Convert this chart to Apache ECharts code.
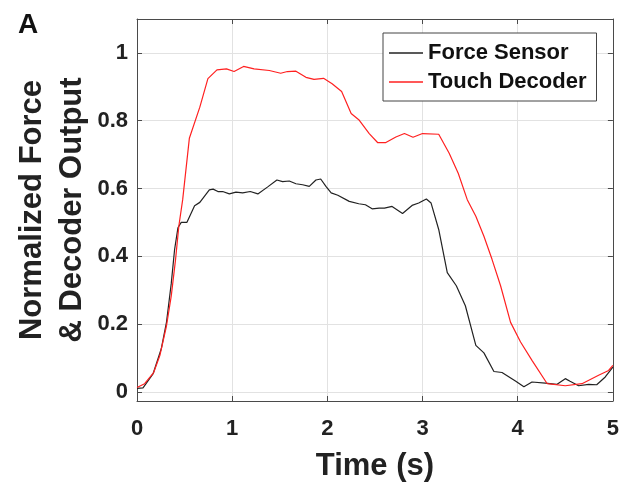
<!DOCTYPE html>
<html>
<head>
<meta charset="utf-8">
<script src="https://cdn.jsdelivr.net/npm/echarts@6/dist/echarts.min.js"></script>
<style>
  html, body { margin: 0; padding: 0; background: #fff; }
  #chart { width: 622px; height: 487px; }
</style>
</head>
<body>
<div id="chart"></div>
<script>
// ---- Data ----
const seriesNames = ['Force Sensor', 'Touch Decoder'];
const xTicks = [0, 1, 2, 3, 4, 5];
const yTicks = [0, 0.2, 0.4, 0.6, 0.8, 1];

const forceTime = [0, 0.063, 0.17, 0.255, 0.31, 0.36, 0.395, 0.43, 0.465, 0.525, 0.605, 0.66, 0.76, 0.80, 0.85, 0.90, 0.97, 1.04, 1.11, 1.19, 1.27, 1.37, 1.47, 1.53, 1.60, 1.67, 1.74, 1.81, 1.88, 1.93, 1.985, 2.04, 2.11, 2.23, 2.33, 2.40, 2.47, 2.545, 2.60, 2.68, 2.79, 2.89, 2.96, 3.04, 3.09, 3.17, 3.26, 3.355, 3.45, 3.56, 3.645, 3.75, 3.835, 3.98, 4.065, 4.15, 4.29, 4.41, 4.5, 4.55, 4.64, 4.745, 4.83, 4.92, 5.0];
const forceValue = [0.01, 0.012, 0.054, 0.127, 0.206, 0.32, 0.42, 0.484, 0.50, 0.50, 0.549, 0.559, 0.596, 0.598, 0.591, 0.591, 0.584, 0.589, 0.587, 0.591, 0.584, 0.604, 0.625, 0.62, 0.622, 0.614, 0.611, 0.606, 0.625, 0.628, 0.606, 0.587, 0.58, 0.562, 0.555, 0.552, 0.54, 0.542, 0.542, 0.547, 0.526, 0.55, 0.557, 0.569, 0.557, 0.479, 0.352, 0.313, 0.254, 0.137, 0.115, 0.06, 0.057, 0.031, 0.015, 0.029, 0.026, 0.022, 0.039, 0.031, 0.018, 0.022, 0.021, 0.044, 0.073];

const decoderTime = [0, 0.08, 0.175, 0.24, 0.31, 0.36, 0.405, 0.44, 0.48, 0.55, 0.66, 0.745, 0.84, 0.94, 1.02, 1.12, 1.23, 1.39, 1.51, 1.58, 1.67, 1.775, 1.86, 1.96, 2.05, 2.15, 2.25, 2.33, 2.44, 2.53, 2.61, 2.72, 2.81, 2.90, 3.0, 3.17, 3.28, 3.375, 3.47, 3.56, 3.645, 3.73, 3.82, 3.925, 4.03, 4.15, 4.31, 4.5, 4.675, 4.85, 4.955, 5.0];
const decoderValue = [0.013, 0.024, 0.057, 0.107, 0.195, 0.283, 0.39, 0.49, 0.567, 0.748, 0.84, 0.924, 0.95, 0.953, 0.945, 0.96, 0.953, 0.948, 0.94, 0.945, 0.946, 0.928, 0.922, 0.925, 0.909, 0.886, 0.821, 0.803, 0.762, 0.735, 0.735, 0.752, 0.762, 0.751, 0.762, 0.76, 0.704, 0.645, 0.567, 0.518, 0.459, 0.391, 0.313, 0.205, 0.147, 0.093, 0.024, 0.018, 0.024, 0.049, 0.063, 0.078];

const xTitle = 'Time (s)';
const yTitle = 'Normalized Force\n& Decoder Output';
const panelLabel = 'A';

// ---- Chart ----
const FONT = '"Liberation Sans", Arial, Helvetica, sans-serif';
const AX = '#4a4a4a';
const GRID = '#e2e2e2';
const zip = (xs, ys) => xs.map((x, i) => [x, ys[i]]);

const chart = echarts.init(document.getElementById('chart'), null, { renderer: 'canvas' });

const baseX = {
  type: 'value', min: 0, max: 5, interval: 1,
  axisLine: { show: true, onZero: false, lineStyle: { color: AX, width: 1 } },
  axisTick: { show: true, inside: true, length: 5, lineStyle: { color: AX } }
};
const baseY = {
  type: 'value', min: -0.027, max: 1.1,
  axisLine: { show: true, onZero: false, lineStyle: { color: AX, width: 1 } },
  axisTick: { show: true, inside: true, length: 5, customValues: yTicks, lineStyle: { color: AX } }
};

chart.setOption({
  animation: false,
  backgroundColor: '#fff',
  grid: { left: 137, right: 7, top: 19, bottom: 85, containLabel: false },
  xAxis: [
    Object.assign({}, baseX, {
      position: 'bottom',
      axisLabel: { show: true, margin: 17, color: '#222', fontSize: 22, fontWeight: 'bold', fontFamily: FONT,
        customValues: xTicks },
      splitLine: { show: true, lineStyle: { color: GRID, width: 1 } },
      name: xTitle, nameLocation: 'middle', nameGap: 50,
      nameTextStyle: { color: '#222', fontSize: 31, fontWeight: 'bold', fontFamily: FONT }
    }),
    Object.assign({}, baseX, {
      position: 'top',
      axisLabel: { show: false },
      splitLine: { show: false }
    })
  ],
  yAxis: [
    Object.assign({}, baseY, {
      position: 'left',
      axisLabel: { show: true, margin: 9, color: '#222', fontSize: 22, fontWeight: 'bold', fontFamily: FONT,
        customValues: yTicks },
      splitLine: { show: true, lineStyle: { color: GRID, width: 1 } }
    }),
    Object.assign({}, baseY, {
      position: 'right',
      axisLabel: { show: false },
      splitLine: { show: false }
    })
  ],
  legend: {
    data: seriesNames,
    orient: 'vertical',
    left: 383, top: 33,
    padding: [9, 10, 8, 6],
    itemGap: 7,
    icon: 'rect',
    itemWidth: 34, itemHeight: 1.3,
    backgroundColor: '#fff',
    borderColor: '#444', borderWidth: 1, borderRadius: 0,
    textStyle: { color: '#111', fontSize: 22, fontWeight: 'bold', fontFamily: FONT },
    selectedMode: false
  },
  graphic: [
    { type: 'text', left: 18, top: 11,
      style: { text: panelLabel, fill: '#111', fontSize: 28, fontWeight: 'bold', fontFamily: FONT } },
    { type: 'text', x: 52, y: 210, rotation: Math.PI / 2,
      style: { text: yTitle, fill: '#222', fontSize: 31, fontWeight: 'bold', fontFamily: FONT,
        align: 'center', verticalAlign: 'middle', lineHeight: 40 } }
  ],
  series: [
    { name: seriesNames[0], type: 'line', data: zip(forceTime, forceValue),
      showSymbol: false, symbol: 'none', smooth: false,
      lineStyle: { color: '#222', width: 1.2 }, itemStyle: { color: '#222' } },
    { name: seriesNames[1], type: 'line', data: zip(decoderTime, decoderValue),
      showSymbol: false, symbol: 'none', smooth: false,
      lineStyle: { color: '#ff2020', width: 1.2 }, itemStyle: { color: '#ff2020' } }
  ]
});
</script>
</body>
</html>
